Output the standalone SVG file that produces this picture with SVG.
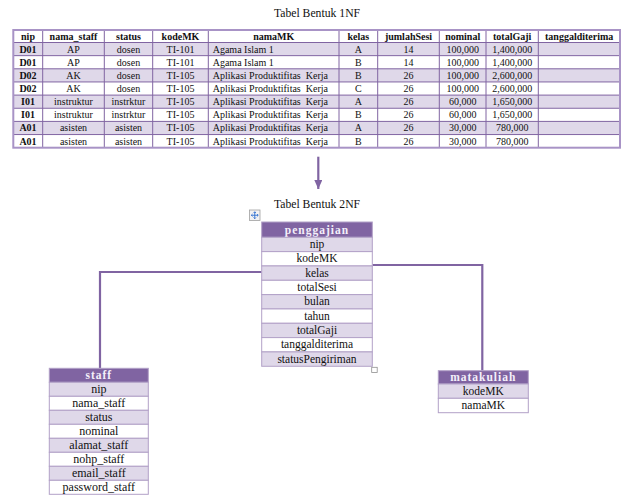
<svg xmlns="http://www.w3.org/2000/svg" width="629" height="496" viewBox="0 0 629 496">
<style>
text{font-family:"Liberation Serif","Times New Roman",serif;fill:#111}
.t{font-size:11.7px;text-anchor:middle}
.h{font-size:10px;font-weight:bold;text-anchor:middle}
.b{font-size:10px;font-weight:bold;text-anchor:middle}
.d{font-size:10px;text-anchor:middle}
.dl{font-size:10px}
.lav{fill:#dfd8e9}
.wh{fill:#ffffff}
.grid{stroke:#8064a2;stroke-width:1;fill:none}
.outer{stroke:#a893c6;stroke-width:2;fill:none}
.eh{fill:#8064a2;stroke:#b2a1c7;stroke-width:1}
.ehT{font-size:11.5px;font-weight:bold;fill:#f4f0fa;text-anchor:middle;letter-spacing:1px}
.er{stroke:#b2a1c7;stroke-width:1}
.f{font-size:11.5px;text-anchor:middle}
.fs{font-size:12px;text-anchor:middle}
.conn{stroke:#8064a2;stroke-width:2.2;fill:none}
</style>
<defs>
<marker id="ah" markerWidth="9" markerHeight="8" refX="9" refY="4" orient="auto" markerUnits="userSpaceOnUse" viewBox="0 0 9 8">
<path d="M0,0 L9,4 L0,8 Z" fill="#8064a2"/>
</marker>
</defs>

<text class="t" x="317" y="16.5">Tabel Bentuk 1NF</text>

<g id="tabel1nf">
<rect class="wh" x="13.3" y="30" width="606.7" height="12.5"/>
<rect class="lav" x="13.3" y="42.5" width="606.7" height="13.15"/>
<rect class="wh" x="13.3" y="55.65" width="606.7" height="13.15"/>
<rect class="lav" x="13.3" y="68.8" width="606.7" height="13.15"/>
<rect class="wh" x="13.3" y="81.95" width="606.7" height="13.15"/>
<rect class="lav" x="13.3" y="95.1" width="606.7" height="13.15"/>
<rect class="wh" x="13.3" y="108.25" width="606.7" height="13.15"/>
<rect class="lav" x="13.3" y="121.4" width="606.7" height="13.15"/>
<rect class="wh" x="13.3" y="134.55" width="606.7" height="13.15"/>
<path class="grid" d="M13.3,42.5H620M13.3,55.65H620M13.3,68.8H620M13.3,81.95H620M13.3,95.1H620M13.3,108.25H620M13.3,121.4H620M13.3,134.55H620M42.7,30V147.7M104.3,30V147.7M152.7,30V147.7M208.3,30V147.7M339,30V147.7M377.7,30V147.7M439.3,30V147.7M486,30V147.7M538.3,30V147.7"/>
<rect class="outer" x="13.3" y="30" width="606.7" height="117.7"/>
<g>
<text class="h" x="28" y="39.5">nip</text>
<text class="h" x="73.5" y="39.5">nama_staff</text>
<text class="h" x="128.5" y="39.5">status</text>
<text class="h" x="180.5" y="39.5">kodeMK</text>
<text class="h" x="273.7" y="39.5">namaMK</text>
<text class="h" x="358.3" y="39.5">kelas</text>
<text class="h" x="408.5" y="39.5">jumlahSesi</text>
<text class="h" x="462.7" y="39.5">nominal</text>
<text class="h" x="512.2" y="39.5">totalGaji</text>
<text class="h" x="579.2" y="39.5">tanggalditerima</text>
</g>
<g>
<text class="b" x="28" y="52.5">D01</text><text class="d" x="73.5" y="52.5">AP</text><text class="d" x="128.5" y="52.5">dosen</text><text class="d" x="180.5" y="52.5">TI-101</text><text class="dl" x="212.7" y="52.5">Agama Islam 1</text><text class="d" x="358.3" y="52.5">A</text><text class="d" x="408.5" y="52.5">14</text><text class="d" x="462.7" y="52.5">100,000</text><text class="d" x="512.2" y="52.5">1,400,000</text>
<text class="b" x="28" y="65.65">D01</text><text class="d" x="73.5" y="65.65">AP</text><text class="d" x="128.5" y="65.65">dosen</text><text class="d" x="180.5" y="65.65">TI-101</text><text class="dl" x="212.7" y="65.65">Agama Islam 1</text><text class="d" x="358.3" y="65.65">B</text><text class="d" x="408.5" y="65.65">14</text><text class="d" x="462.7" y="65.65">100,000</text><text class="d" x="512.2" y="65.65">1,400,000</text>
<text class="b" x="28" y="78.8">D02</text><text class="d" x="73.5" y="78.8">AK</text><text class="d" x="128.5" y="78.8">dosen</text><text class="d" x="180.5" y="78.8">TI-105</text><text class="dl" x="212.7" y="78.8" xml:space="preserve">Aplikasi Produktifitas  Kerja</text><text class="d" x="358.3" y="78.8">B</text><text class="d" x="408.5" y="78.8">26</text><text class="d" x="462.7" y="78.8">100,000</text><text class="d" x="512.2" y="78.8">2,600,000</text>
<text class="b" x="28" y="91.95">D02</text><text class="d" x="73.5" y="91.95">AK</text><text class="d" x="128.5" y="91.95">dosen</text><text class="d" x="180.5" y="91.95">TI-105</text><text class="dl" x="212.7" y="91.95" xml:space="preserve">Aplikasi Produktifitas  Kerja</text><text class="d" x="358.3" y="91.95">C</text><text class="d" x="408.5" y="91.95">26</text><text class="d" x="462.7" y="91.95">100,000</text><text class="d" x="512.2" y="91.95">2,600,000</text>
<text class="b" x="28" y="105.1">I01</text><text class="d" x="73.5" y="105.1">instruktur</text><text class="d" x="128.5" y="105.1">instrktur</text><text class="d" x="180.5" y="105.1">TI-105</text><text class="dl" x="212.7" y="105.1" xml:space="preserve">Aplikasi Produktifitas  Kerja</text><text class="d" x="358.3" y="105.1">A</text><text class="d" x="408.5" y="105.1">26</text><text class="d" x="462.7" y="105.1">60,000</text><text class="d" x="512.2" y="105.1">1,650,000</text>
<text class="b" x="28" y="118.25">I01</text><text class="d" x="73.5" y="118.25">instruktur</text><text class="d" x="128.5" y="118.25">instrktur</text><text class="d" x="180.5" y="118.25">TI-105</text><text class="dl" x="212.7" y="118.25" xml:space="preserve">Aplikasi Produktifitas  Kerja</text><text class="d" x="358.3" y="118.25">B</text><text class="d" x="408.5" y="118.25">26</text><text class="d" x="462.7" y="118.25">60,000</text><text class="d" x="512.2" y="118.25">1,650,000</text>
<text class="b" x="28" y="131.4">A01</text><text class="d" x="73.5" y="131.4">asisten</text><text class="d" x="128.5" y="131.4">asisten</text><text class="d" x="180.5" y="131.4">TI-105</text><text class="dl" x="212.7" y="131.4" xml:space="preserve">Aplikasi Produktifitas  Kerja</text><text class="d" x="358.3" y="131.4">A</text><text class="d" x="408.5" y="131.4">26</text><text class="d" x="462.7" y="131.4">30,000</text><text class="d" x="512.2" y="131.4">780,000</text>
<text class="b" x="28" y="144.55">A01</text><text class="d" x="73.5" y="144.55">asisten</text><text class="d" x="128.5" y="144.55">asisten</text><text class="d" x="180.5" y="144.55">TI-105</text><text class="dl" x="212.7" y="144.55" xml:space="preserve">Aplikasi Produktifitas  Kerja</text><text class="d" x="358.3" y="144.55">B</text><text class="d" x="408.5" y="144.55">26</text><text class="d" x="462.7" y="144.55">30,000</text><text class="d" x="512.2" y="144.55">780,000</text>
</g>
</g>

<text class="t" x="317" y="207.5">Tabel Bentuk 2NF</text>

<g id="connectors">
<path class="conn" d="M318.3,156.7V189" marker-end="url(#ah)"/>
<path class="conn" d="M261.7,272H100V368.3"/>
<path class="conn" d="M372.3,265H482.3V370.7"/>
</g>

<g id="moveicon">
<rect x="249.5" y="210" width="10.5" height="10.5" fill="#f2f2f2" stroke="#a0a0a0" stroke-width="0.8"/>
<path d="M254.75,211.8V218.7M251.3,215.25H258.2M253.6,213L254.75,211.8L255.9,213M253.6,217.5L254.75,218.7L255.9,217.5M252.5,214.1L251.3,215.25L252.5,216.4M257,214.1L258.2,215.25L257,216.4" stroke="#2f6fd0" stroke-width="0.9" fill="none"/>
</g>

<g id="penggajian">
<rect class="eh" x="261.7" y="222" width="110.6" height="15.3"/>
<text class="ehT" x="317" y="233.5">penggajian</text>
<rect class="lav er" x="261.7" y="237.3" width="110.6" height="14.33"/>
<rect class="wh er" x="261.7" y="251.63" width="110.6" height="14.33"/>
<rect class="lav er" x="261.7" y="265.96" width="110.6" height="14.33"/>
<rect class="wh er" x="261.7" y="280.29" width="110.6" height="14.33"/>
<rect class="lav er" x="261.7" y="294.62" width="110.6" height="14.33"/>
<rect class="wh er" x="261.7" y="308.95" width="110.6" height="14.33"/>
<rect class="lav er" x="261.7" y="323.28" width="110.6" height="14.33"/>
<rect class="wh er" x="261.7" y="337.61" width="110.6" height="14.33"/>
<rect class="lav er" x="261.7" y="351.94" width="110.6" height="14.33"/>
<text class="f" x="317" y="248">nip</text>
<text class="f" x="317" y="262.3">kodeMK</text>
<text class="f" x="317" y="276.6">kelas</text>
<text class="f" x="317" y="291">totalSesi</text>
<text class="f" x="317" y="305.3">bulan</text>
<text class="f" x="317" y="319.6">tahun</text>
<text class="f" x="317" y="334">totalGaji</text>
<text class="f" x="317" y="348.3">tanggalditerima</text>
<text class="f" x="317" y="362.6">statusPengiriman</text>
<rect x="371.7" y="367.3" width="5.5" height="5.2" fill="#fff" stroke="#909090" stroke-width="0.8"/>
</g>

<g id="staff">
<rect class="eh" x="49.3" y="368.3" width="99" height="14"/>
<text class="ehT" x="98.8" y="379.3">staff</text>
<rect class="lav er" x="49.3" y="382.3" width="99" height="14"/>
<rect class="wh er" x="49.3" y="396.3" width="99" height="14"/>
<rect class="lav er" x="49.3" y="410.3" width="99" height="14"/>
<rect class="wh er" x="49.3" y="424.3" width="99" height="14"/>
<rect class="lav er" x="49.3" y="438.3" width="99" height="14"/>
<rect class="wh er" x="49.3" y="452.3" width="99" height="14"/>
<rect class="lav er" x="49.3" y="466.3" width="99" height="14"/>
<rect class="wh er" x="49.3" y="480.3" width="99" height="14"/>
<text class="fs" x="98.8" y="393">nip</text>
<text class="fs" x="98.8" y="407">nama_staff</text>
<text class="fs" x="98.8" y="421">status</text>
<text class="fs" x="98.8" y="435">nominal</text>
<text class="fs" x="98.8" y="449">alamat_staff</text>
<text class="fs" x="98.8" y="463">nohp_staff</text>
<text class="fs" x="98.8" y="477">email_staff</text>
<text class="fs" x="98.8" y="491">password_staff</text>
</g>

<g id="matakuliah">
<rect class="eh" x="438.3" y="370.7" width="90" height="13.3"/>
<text class="ehT" x="483.3" y="381.3">matakuliah</text>
<rect class="lav er" x="438.3" y="384" width="90" height="14.3"/>
<rect class="wh er" x="438.3" y="398.3" width="90" height="14.4"/>
<text class="f" x="483.3" y="394.8">kodeMK</text>
<text class="f" x="483.3" y="409.2">namaMK</text>
</g>
</svg>
